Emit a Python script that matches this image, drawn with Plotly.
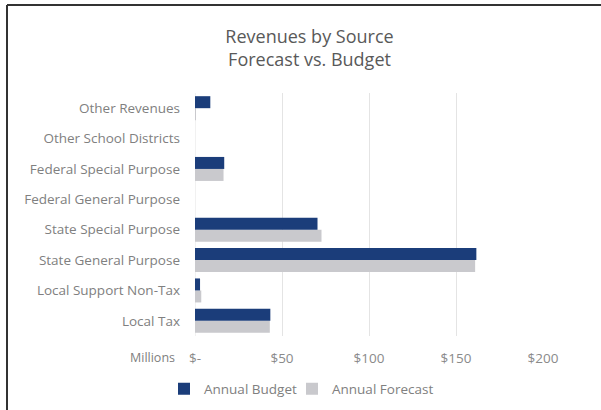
import plotly.graph_objects as go

categories = ["Local Tax", "Local Support Non-Tax", "State General Purpose", "State Special Purpose",
              "Federal General Purpose", "Federal Special Purpose", "Other School Districts", "Other Revenues"]
budget = [43.3, 2.9, 161.7, 70.4, 0, 16.8, 0, 8.8]
forecast = [43.0, 3.6, 161.0, 72.7, 0, 16.4, 0, 0.3]
tick_vals = [0, 50, 100, 150, 200]
tick_text = ["$-", "$50", "$100", "$150", "$200"]

FONT = "Open Sans"
fig = go.Figure()
fig.add_trace(go.Bar(y=categories, x=forecast, orientation="h", name="Annual Forecast",
                     legend="legend2",
                     marker=dict(color="#C9C9CD", line=dict(width=0))))
fig.add_trace(go.Bar(y=categories, x=budget, orientation="h", name="Annual Budget",
                     legend="legend",
                     marker=dict(color="#1B3D7A", line=dict(width=0))))

L, R, T, B = 195, 58, 93, 74
W, H = 601, 410
pw, ph = W - L - R, H - T - B

def px(x):
    return (x - L) / pw

def py(y):
    return (H - B - y) / ph

legend_common = dict(orientation="h", xref="container", yref="container", xanchor="left",
                     y=1 - 389 / H, yanchor="middle", font=dict(size=13.5, color="#808080"),
                     bgcolor="rgba(0,0,0,0)")

fig.update_layout(
    width=W, height=H,
    margin=dict(l=L, r=R, t=T, b=B, pad=0, autoexpand=False),
    paper_bgcolor="white", plot_bgcolor="white",
    barmode="group", bargap=0.21, bargroupgap=0,
    font=dict(family=FONT, color="#7F7F7F", size=13),
    title=dict(text="Revenues by Source<br>Forecast vs. Budget", x=0.515, xanchor="center",
               y=1 - 43 / H, yanchor="middle",
               font=dict(family=FONT, size=18, color="#595959", weight=500)),
    xaxis=dict(range=[0, 200], tickvals=tick_vals, ticktext=tick_text, showgrid=True,
               gridcolor="#E4E4E4", gridwidth=1, zeroline=False, showline=False,
               ticklabelstandoff=12, tickfont=dict(size=13.5, color="#8A8A8A"), fixedrange=True),
    yaxis=dict(categoryorder="array", categoryarray=categories, showgrid=False, zeroline=False,
               showline=False, ticklabelstandoff=14, tickfont=dict(size=13.5, color="#808080")),
    legend=dict(x=164 / W, **legend_common),
    legend2=dict(x=292 / W, **legend_common),
    showlegend=True,
    shapes=[
        dict(type="line", xref="paper", yref="paper", x0=px(7), x1=px(650), y0=py(5), y1=py(5),
             line=dict(color="#333333", width=2)),
        dict(type="line", xref="paper", yref="paper", x0=px(7), x1=px(7), y0=py(5), y1=py(460),
             line=dict(color="#333333", width=2)),
        dict(type="line", xref="x", yref="paper", x0=0, x1=0, y0=0, y1=1,
             line=dict(color="#E4E4E4", width=1), layer="below"),
    ],
    annotations=[
        dict(text="Millions", xref="paper", yref="paper", x=px(177), y=py(357), xanchor="right",
             yanchor="middle", showarrow=False, font=dict(family=FONT, size=12.5, color="#808080")),
    ],
)

fig.write_html("out.html", config={"displayModeBar": False},
               post_script="document.body.style.margin='0';document.body.style.overflow='hidden';")
